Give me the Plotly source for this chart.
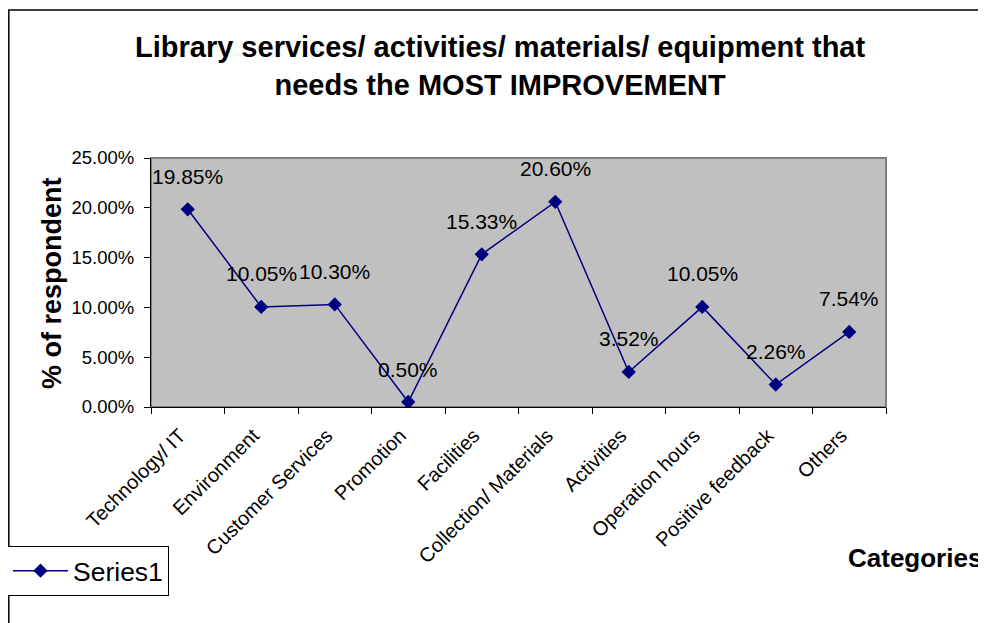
import plotly.graph_objects as go

categories = ["Technology/ IT", "Environment", "Customer Services", "Promotion",
              "Facilities", "Collection/ Materials", "Activities", "Operation hours",
              "Positive feedback", "Others"]
values = [0.1985, 0.1005, 0.1030, 0.0050, 0.1533, 0.2060, 0.0352, 0.1005, 0.0226, 0.0754]
y_ticks = [0.0, 0.05, 0.10, 0.15, 0.20, 0.25]
series_name = "Series1"
title_text = "Library services/ activities/ materials/ equipment that<br>needs the MOST IMPROVEMENT"

FONT = "Liberation Sans, Arial, sans-serif"
NAVY = "#000080"

# The page body has an 8px margin; the figure is sized so that it fills the
# 986x623 window exactly. Positions below are given in window pixels.
OFF = 8
W, H = 986 - OFF, 623 - OFF
L, R, T, B = 151 - OFF, 886 - OFF, 158 - OFF, 407 - OFF
pw, ph = R - L, B - T
def px(x): return (x - OFF - L) / pw
def py(y): return (B - (y - OFF)) / ph

fig = go.Figure()
fig.add_trace(go.Scatter(
    x=categories, y=values, mode="lines+markers", name=series_name,
    line=dict(color=NAVY, width=1.5),
    marker=dict(symbol="diamond", size=11, color=NAVY),
))

annotations = []
for c, v in zip(categories, values):
    annotations.append(dict(x=c, y=v, xref="x", yref="y", text=f"{v*100:.2f}%",
                            showarrow=False, yshift=33,
                            font=dict(family=FONT, size=21, color="black")))

annotations += [
    dict(x=px(500), y=py(65.5), xref="paper", yref="paper", text=title_text,
         showarrow=False, xanchor="center", yanchor="middle",
         font=dict(family=FONT, size=29, color="black", weight="bold")),
    dict(x=px(52), y=py(283), xref="paper", yref="paper", text="% of respondent",
         showarrow=False, textangle=-90, xanchor="center", yanchor="middle",
         font=dict(family=FONT, size=27, color="black", weight="bold")),
    dict(x=px(984), y=py(558), xref="paper", yref="paper", text="Categories",
         showarrow=False, xanchor="right", yanchor="middle",
         font=dict(family=FONT, size=26, color="black", weight="bold")),
]

shapes = [
    dict(type="rect", xref="paper", yref="paper", x0=0, x1=1, y0=0, y1=1,
         line=dict(color="#808080", width=2), layer="below"),
    dict(type="rect", xref="paper", yref="paper", x0=px(OFF + 0.8), x1=px(1010),
         y0=py(650), y1=py(10), line=dict(color="black", width=1.5)),
]

fig.update_layout(
    width=W, height=H,
    margin=dict(l=L, r=W - R, t=T, b=H - B, pad=0, autoexpand=False),
    paper_bgcolor="white", plot_bgcolor="#C0C0C0",
    font=dict(family=FONT, color="black"),
    showlegend=True,
    legend=dict(x=px(7), y=py(546), xanchor="left", yanchor="top",
                bgcolor="white", bordercolor="black", borderwidth=1, itemwidth=55,
                font=dict(family=FONT, size=26.5, color="black")),
    annotations=annotations, shapes=shapes,
)
fig.update_xaxes(type="category", tickson="boundaries", ticks="outside", ticklen=6,
                 tickcolor="black", showline=True, linecolor="black", linewidth=1,
                 showgrid=False, tickangle=-45, tickfont=dict(family=FONT, size=20),
                 ticklabelshift=-8, ticklabelstandoff=8,
                 range=[-0.5, len(categories) - 0.5])
fig.update_yaxes(range=[0, 0.25], tickvals=y_ticks, tickformat=".2%", ticks="outside",
                 ticklen=6, tickcolor="black", showline=True, linecolor="black",
                 linewidth=1, showgrid=False, zeroline=False,
                 tickfont=dict(family=FONT, size=18.5), ticklabelstandoff=6)

fig.write_html("out.html")
